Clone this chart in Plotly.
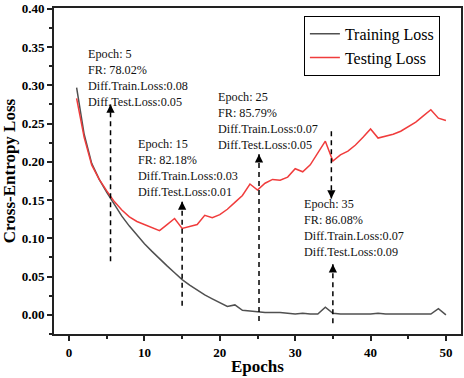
import plotly.graph_objects as go

epochs = list(range(1, 51))

train_loss = [
    0.297, 0.236, 0.198, 0.177, 0.160, 0.144, 0.129, 0.116, 0.104, 0.093,
    0.083, 0.073, 0.064, 0.055, 0.046, 0.039, 0.032, 0.026, 0.021, 0.016,
    0.011, 0.013, 0.006, 0.005, 0.004, 0.003, 0.003, 0.003, 0.002, 0.001,
    0.002, 0.001, 0.001, 0.010, 0.002, 0.001, 0.001, 0.001, 0.001, 0.001,
    0.002, 0.001, 0.001, 0.001, 0.001, 0.001, 0.001, 0.001, 0.008, 0.000,
]

test_loss = [
    0.283, 0.232, 0.196, 0.177, 0.162, 0.148, 0.137, 0.128, 0.122, 0.118,
    0.114, 0.110, 0.118, 0.126, 0.113, 0.116, 0.118, 0.130, 0.127, 0.131,
    0.138, 0.147, 0.156, 0.171, 0.163, 0.172, 0.177, 0.176, 0.180, 0.191,
    0.187, 0.196, 0.212, 0.227, 0.201, 0.209, 0.214, 0.222, 0.232, 0.243,
    0.231, 0.233, 0.236, 0.240, 0.246, 0.252, 0.260, 0.268, 0.257, 0.254,
]

notes = [
    "Epoch: 5<br>FR: 78.02%<br>Diff.Train.Loss:0.08<br>Diff.Test.Loss:0.05",
    "Epoch: 15<br>FR: 82.18%<br>Diff.Train.Loss:0.03<br>Diff.Test.Loss:0.01",
    "Epoch: 25<br>FR: 85.79%<br>Diff.Train.Loss:0.07<br>Diff.Test.Loss:0.05",
    "Epoch: 35<br>FR: 86.08%<br>Diff.Train.Loss:0.07<br>Diff.Test.Loss:0.09",
]

SERIF = "Liberation Serif, Times New Roman, serif"


def add_arrow(fig, x, y0, y1):
    # dashed shaft from y0 to y1, arrowhead at y1
    fig.add_shape(
        type="line", xref="x", yref="y", x0=x, x1=x, y0=y0, y1=y1,
        line=dict(color="black", width=1.5, dash="5px,4px"),
    )
    fig.add_annotation(
        x=x, y=y1, xref="x", yref="y", text="", showarrow=True,
        ax=0, ay=(8 if y1 > y0 else -8), arrowhead=2, arrowsize=1.1,
        arrowwidth=1.5, arrowcolor="black",
    )


fig = go.Figure()

fig.add_trace(
    go.Scatter(
        x=epochs, y=train_loss, mode="lines", name="Training Loss",
        line=dict(color="#505050", width=1.5),
    )
)
fig.add_trace(
    go.Scatter(
        x=epochs, y=test_loss, mode="lines", name="Testing Loss",
        line=dict(color="#f03c3c", width=1.5),
    )
)

add_arrow(fig, 5.5, 0.07, 0.275)
add_arrow(fig, 15, 0.012, 0.148)
add_arrow(fig, 25.2, -0.008, 0.21)
add_arrow(fig, 34.8, 0.24, 0.152)
add_arrow(fig, 35, -0.011, 0.066)

for text, (x, y) in zip(notes, [(2.25, 0.309), (8.9, 0.192), (19.45, 0.253), (30.9, 0.113)]):
    fig.add_annotation(
        x=x, y=y, xref="x", yref="y", text=text, showarrow=False,
        xanchor="left", yanchor="middle", align="left",
        font=dict(family=SERIF, size=12.2, color="#111"),
    )

axis_font = dict(family=SERIF, size=13, color="black")
title_font = dict(family=SERIF, size=17, color="black")

fig.update_layout(
    width=464, height=378,
    margin=dict(l=54, r=1, t=4, b=44),
    plot_bgcolor="white", paper_bgcolor="white",
    showlegend=True,
    legend=dict(
        x=0.614, y=0.976, xanchor="left", yanchor="top",
        bgcolor="white", bordercolor="black", borderwidth=1,
        font=dict(family=SERIF, size=16, color="black"),
        tracegroupgap=0, itemwidth=30,
    ),
    xaxis=dict(
        range=[-2, 52], dtick=10, tick0=0,
        ticks="outside", ticklen=5, tickwidth=1.5, tickcolor="#222",
        minor=dict(ticks="outside", dtick=5, ticklen=3, tickwidth=1.5, tickcolor="#222"),
        showline=True, linewidth=2, linecolor="#222", mirror=True,
        showgrid=False, zeroline=False,
        tickfont=axis_font, tickprefix="<b>", ticksuffix="</b>",
        title=dict(text="<b>Epochs</b>", font=title_font, standoff=2),
    ),
    xaxis2=dict(
        overlaying="x", side="top", matches="x", range=[-2, 52],
        dtick=5, tick0=0, ticks="inside", ticklen=5, tickwidth=1.5, tickcolor="#222",
        showticklabels=False, showgrid=False, zeroline=False,
        showline=True, linewidth=2, linecolor="#222",
    ),
    yaxis=dict(
        range=[-0.025, 0.401], dtick=0.05, tick0=0, tickformat=".2f",
        ticks="outside", ticklen=5, tickwidth=1.5, tickcolor="#222",
        minor=dict(ticks="outside", dtick=0.025, ticklen=3, tickwidth=1.5, tickcolor="#222"),
        showline=True, linewidth=2, linecolor="#222", mirror=True,
        showgrid=False, zeroline=False, ticklabeloverflow="allow",
        tickfont=axis_font, tickprefix="<b>", ticksuffix="</b>",
        title=dict(text="<b>Cross-Entropy Loss</b>", font=title_font, standoff=2),
    ),
)

# the page body has a default 8px margin; drop it so the figure sits at the corner
fig.write_html(
    "out.html",
    config={"displayModeBar": False},
    post_script="document.body.style.margin='0';",
)
